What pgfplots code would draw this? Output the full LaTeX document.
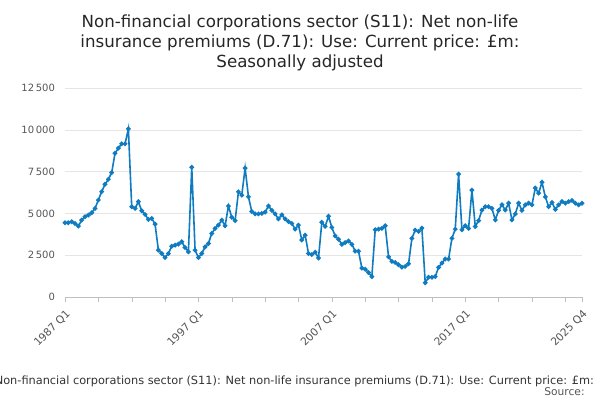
\documentclass[border=0pt]{standalone}
\usepackage{pgfplots}
\pgfplotsset{compat=1.18}
\usepackage{fontspec}
\setmainfont{DejaVu Sans}
\definecolor{ln}{HTML}{0F7BC0}
\definecolor{tk}{HTML}{555555}
\begin{document}
\begin{tikzpicture}
\path[use as bounding box] (0pt,0pt) rectangle (450pt,300pt);
\clip (0pt,0pt) rectangle (450pt,300pt);
\begin{axis}[at={(48.75pt,77.25pt)},anchor=south west,scale only axis,
 width=387.75pt,height=156.75pt,
 xmin=0,xmax=155,ymin=0,ymax=12500,
 scaled y ticks=false,
 ytick={0,2500,5000,7500,10000,12500},
 yticklabels={0,2\,500,5\,000,7\,500,10\,000,12\,500},
 ymajorgrids, grid style={gray!20},
 axis y line=left, y axis line style={draw=none}, ytick style={draw=none},
 axis x line=bottom, x axis line style={gray!50,-}, 
 xtick={0,40,80,120,155},
 xticklabels={1987 Q1,1997 Q1,2007 Q1,2017 Q1,2025 Q4},
 minor xtick={10,20,30,50,60,70,90,100,110,130,140,150},
 xtick style={gray!50}, minor tick length=4pt, major tick length=4pt,
 tick align=outside,
 xticklabel style={rotate=45,anchor=north east,font=\fontsize{8}{10}\selectfont,text=tk},
 yticklabel style={font=\fontsize{7.5}{10}\selectfont,text=tk},
 /pgf/number format/assume math mode=true,
 clip=false]
\addplot[ln,line width=1.2pt,mark=*,mark size=1.1pt] table[x=i,y=v]{
i v
0 4440
1 4440
2 4500
3 4400
4 4240
5 4600
6 4800
7 4900
8 5040
9 5300
10 5800
11 6300
12 6740
13 7040
14 7440
15 8600
16 8900
17 9160
18 9160
19 10060
20 5400
21 5300
22 5700
23 5160
24 4940
25 4640
26 4700
27 4360
28 2800
29 2600
30 2360
31 2600
32 3040
33 3100
34 3160
35 3300
36 2960
37 2700
38 7760
39 2800
40 2360
41 2600
42 3000
43 3200
44 3800
45 4100
46 4300
47 4600
48 4260
49 5440
50 4770
51 4570
52 6290
53 6090
54 7710
55 5990
56 5110
57 4970
58 4970
59 5000
60 5080
61 5440
62 5180
63 4970
64 4670
65 4910
66 4670
67 4510
68 4400
69 4060
70 4300
71 3410
72 3700
73 2600
74 2540
75 2680
76 2330
77 4470
78 4220
79 4830
80 4160
81 3650
82 3450
83 3150
84 3250
85 3350
86 3150
87 2740
88 2740
89 1730
90 1660
91 1460
92 1220
93 4020
94 4060
95 4100
96 4260
97 2400
98 2130
99 2070
100 1930
101 1790
102 1830
103 1990
104 3510
105 4000
106 3920
107 4120
108 850
109 1180
110 1180
111 1220
112 1770
113 2030
114 2270
115 2270
116 3510
117 4060
118 7350
119 4020
120 4260
121 4100
122 6390
123 4220
124 4570
125 5200
126 5400
127 5400
128 5300
129 4610
130 5180
131 5520
132 5200
133 5610
134 4610
135 4970
136 5610
137 5180
138 5510
139 5610
140 5510
141 6520
142 6210
143 6860
144 5990
145 5400
146 5650
147 5240
148 5510
149 5710
150 5610
151 5710
152 5770
153 5610
154 5510
155 5610
};
\end{axis}
\node[font=\fontsize{12.5}{15}\selectfont,align=center,text=black!85] at (225pt,268pt)
 {Non-financial corporations sector (S11): Net non-life\\insurance premiums (D.71): Use: Current price: £m:\\Seasonally adjusted};
\node[font=\fontsize{8.5}{11}\selectfont,text=black!80,anchor=east] at (449pt,14pt)
 {Non-financial corporations sector (S11): Net non-life insurance premiums (D.71): Use: Current price: £m:};
\node[font=\fontsize{8}{10}\selectfont,text=tk,anchor=east] at (442pt,6pt) {Source:};
\end{tikzpicture}
\end{document}
